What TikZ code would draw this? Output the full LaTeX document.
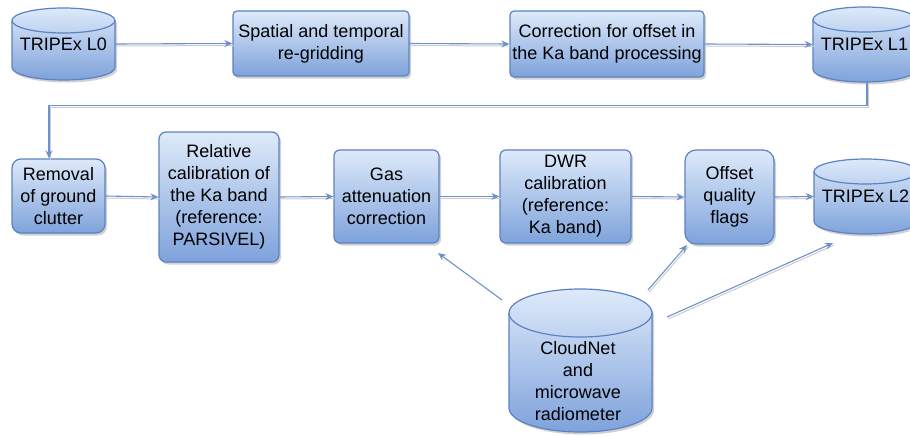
\documentclass[tikz,border=0pt]{standalone}
\usepackage{fontspec}
\setmainfont{Liberation Sans}
\usetikzlibrary{arrows.meta,shadows,calc}
\definecolor{lineblue}{RGB}{110,145,205}
\definecolor{borderblue}{RGB}{92,130,195}
\definecolor{toplight}{RGB}{222,234,250}
\definecolor{botdark}{RGB}{126,162,219}
\tikzset{
  txt/.style={align=center,font=\fontsize{18pt}{22pt}\selectfont,inner sep=0pt},
  proc/.style={txt,draw=borderblue,line width=1.2pt,top color=toplight,bottom color=botdark,
    drop shadow={shadow xshift=2pt,shadow yshift=-2.5pt,fill=black,opacity=0.18}},
  cylnode/.style={txt},
  cylfill/.style={draw=borderblue,line width=1.2pt,top color=toplight,bottom color=botdark},
  cylshadow/.style={fill=black,opacity=0.18},
  cylrimstyle/.style={draw=borderblue,line width=1.2pt},
  conn/.style={draw=lineblue,line width=1.1pt,-{Stealth[length=8pt,width=7pt]},
    preaction={draw=black!20,line width=1pt,-,transform canvas={xshift=1.2pt,yshift=-2pt}}},
  connsingle/.style={draw=lineblue,line width=1.1pt,-{Stealth[length=8pt,width=7pt]}}
}
\newcommand\cylpath[6]{%
  \pgfmathsetmacro\cxm{(#1+#2)/2}%
  \pgfmathsetmacro\ckx{(#2-#1)/2*0.5523}%
  \pgfmathsetmacro\cky{#5*0.5523}%
  \pgfmathsetmacro\cyt{#3+#5}%
  \pgfmathsetmacro\cyb{#4-#5}%
  \path[#6] (#1,\cyt) -- (#1,\cyb) .. controls (#1,\cyb+\cky) and (\cxm-\ckx,#4) .. (\cxm,#4)
     .. controls (\cxm+\ckx,#4) and (#2,\cyb+\cky) .. (#2,\cyb) -- (#2,\cyt)
     .. controls (#2,\cyt-\cky) and (\cxm+\ckx,#3) .. (\cxm,#3)
     .. controls (\cxm-\ckx,#3) and (#1,\cyt-\cky) .. (#1,\cyt) -- cycle;
}
\newcommand\cylrim[5]{%
  \pgfmathsetmacro\cxm{(#1+#2)/2}%
  \pgfmathsetmacro\ckx{(#2-#1)/2*0.5523}%
  \pgfmathsetmacro\cky{#5*0.5523}%
  \pgfmathsetmacro\cyt{#3+#5}%
  \pgfmathsetmacro\cye{#3+2*#5}%
  \path[cylrimstyle] (#1,\cyt) .. controls (#1,\cyt+\cky) and (\cxm-\ckx,\cye) .. (\cxm,\cye)
     .. controls (\cxm+\ckx,\cye) and (#2,\cyt+\cky) .. (#2,\cyt);
}
\newcommand\mycyl[5]{%
  \begin{scope}[shift={(2,2.5)}]\cylpath{#1}{#2}{#3}{#4}{#5}{cylshadow}\end{scope}%
  \cylpath{#1}{#2}{#3}{#4}{#5}{cylfill}%
  \cylrim{#1}{#2}{#3}{#4}{#5}%
}
\begin{document}
\begin{tikzpicture}[x=1pt,y=-1pt]
\useasboundingbox (0,0) rectangle (910,436);
\clip (0,0) rectangle (910,436);

% cylinders
\mycyl{12}{115}{8}{80}{12.5}
\node[cylnode,minimum width=103pt,minimum height=72pt] (L0) at (63.5,44) {TRIPEx L0};
\mycyl{813}{916}{7}{82}{12.5}
\node[cylnode,minimum width=103pt,minimum height=75pt] (L1) at (864.5,44.5) {TRIPEx L1};
\mycyl{814}{917}{159}{234}{12.5}
\node[cylnode,minimum width=103pt,minimum height=75pt] (L2) at (865.5,196.5) {TRIPEx L2};
\mycyl{509}{652}{289}{432}{24}
\node[cylnode,minimum width=143pt,minimum height=143pt] (cn) at (580.5,360.5) {};
\node[cylnode] (cntext) at (578,381.5) {CloudNet\\and\\microwave\\radiometer};

% process boxes
\node[proc,rounded corners=4pt,minimum width=176pt,minimum height=65pt] (b1) at (321,43.5)
  {Spatial and temporal\\re-gridding};
\node[proc,rounded corners=4pt,minimum width=194pt,minimum height=66pt] (b2) at (607,44)
  {Correction for offset in\\the Ka band processing};
\node[proc,rounded corners=9pt,minimum width=93pt,minimum height=74pt] (rem) at (58.5,196)
  {Removal\\of ground\\clutter};
\node[proc,rounded corners=7pt,minimum width=120pt,minimum height=130pt] (rel) at (219,197)
  {Relative\\calibration of\\the Ka band\\(reference:\\PARSIVEL)};
\node[proc,rounded corners=6pt,minimum width=105pt,minimum height=93pt] (gas) at (386.5,196.5)
  {Gas\\attenuation\\correction};
\node[proc,rounded corners=6pt,minimum width=131pt,minimum height=93pt] (dwr) at (565.5,196.5)
  {DWR\\calibration\\(reference:\\Ka band)};
\node[proc,rounded corners=11pt,minimum width=89pt,minimum height=94pt] (off) at (729.5,197)
  {Offset\\quality\\flags};

% connectors
\draw[conn] (L0.east) -- (b1.west);
\draw[conn] (b1.east) -- (b2.west);
\draw[conn] (b2.east) -- (L1.west);
\draw[conn] ([xshift=2.5pt]L1.south) -- ++(0,23) -| ([xshift=-9.5pt]rem.north);
\draw[conn] (rem.east) -- (rel.west);
\draw[conn] (rel.east) -- (gas.west);
\draw[conn] (gas.east) -- (dwr.west);
\draw[conn] (dwr.east) -- (off.west);
\draw[conn] (off.east) -- (L2.west);

\coordinate (c1s) at (502,300);
\coordinate (c1e) at (438,253);
\coordinate (c2s) at (648,290);
\coordinate (c2e) at (687,245);
\coordinate (c3s) at (667,317);
\coordinate (c3e) at (833,243);
\draw[connsingle] (c1s) -- (c1e);
\draw[conn] (c2s) -- (c2e);
\draw[conn] (c3s) -- (c3e);
\end{tikzpicture}
\end{document}
